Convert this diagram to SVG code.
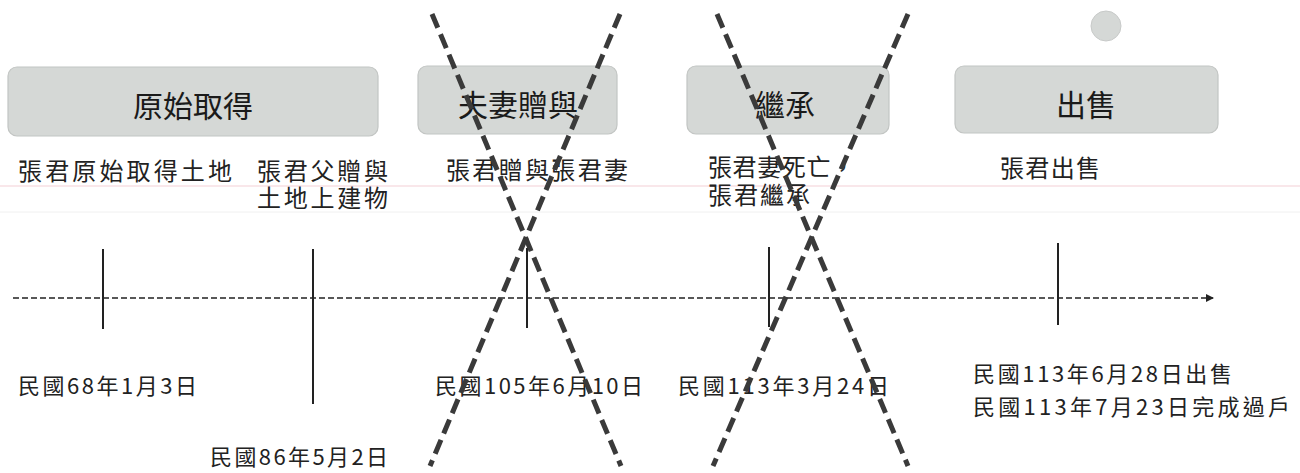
<svg xmlns="http://www.w3.org/2000/svg" width="1300" height="473" viewBox="0 0 1300 473">
  <style>
    .box { fill: #d5d8d6; stroke: #c2c5c3; stroke-width: 1.2; }
    .title { font-family: "Noto Sans CJK TC", "Noto Sans", sans-serif; font-size: 30px; fill: #1a1a1a; text-anchor: middle; }
    .desc { font-family: "Noto Sans CJK TC", "Noto Sans", sans-serif; font-size: 24px; fill: #222; }
    .date { font-family: "Noto Sans CJK TC", "Liberation Serif", serif; font-size: 22px; fill: #222; }
    .tick { stroke: #222; stroke-width: 2; }
    .axis { stroke: #222; stroke-width: 1.6; stroke-dasharray: 6 3; fill: none; }
    .cross { stroke: #3a3a3a; stroke-width: 5; stroke-dasharray: 15 7; fill: none; }
  </style>
  <defs>
    <marker id="arrow" markerWidth="8" markerHeight="8" refX="7" refY="4" orient="auto" markerUnits="userSpaceOnUse">
      <path d="M0,0 L8,4 L0,8 Z" fill="#222"/>
    </marker>
  </defs>
  <rect width="1300" height="473" fill="#ffffff"/>
  <!-- faint scan rule lines -->
  <line x1="0" y1="186" x2="1300" y2="186" stroke="#f3d0d6" stroke-width="1.2"/>
  <line x1="0" y1="212" x2="1300" y2="212" stroke="#f0f0f0" stroke-width="1"/>

  <g id="node-original">
    <rect class="box" x="8" y="67" width="370" height="69" rx="9"/>
    <text class="title" x="193" y="117">原始取得</text>
    <text class="desc" x="18" y="180" textLength="214" lengthAdjust="spacing">張君原始取得土地</text>
    <text class="desc" x="257" y="180" textLength="131" lengthAdjust="spacing">張君父贈與</text>
    <text class="desc" x="257" y="207" textLength="131" lengthAdjust="spacing">土地上建物</text>
  </g>
  <g id="node-spouse-gift">
    <rect class="box" x="418" y="66" width="199" height="68" rx="9"/>
    <text class="title" x="518" y="116">夫妻贈與</text>
    <text class="desc" x="446" y="179" textLength="182" lengthAdjust="spacing">張君贈與張君妻</text>
  </g>
  <g id="node-inherit">
    <rect class="box" x="687" y="66" width="202" height="68" rx="9"/>
    <text class="title" x="785" y="116">繼承</text>
    <text class="desc" x="708" y="176" textLength="147" lengthAdjust="spacing">張君妻死亡，</text>
    <text class="desc" x="708" y="204" textLength="102" lengthAdjust="spacing">張君繼承</text>
  </g>
  <g id="node-sale">
    <circle cx="1106" cy="26" r="15" fill="#d5d8d6" stroke="#c8cac9" stroke-width="1"/>
    <rect class="box" x="955" y="66" width="263" height="67" rx="9"/>
    <text class="title" x="1086" y="116">出售</text>
    <text class="desc" x="1000" y="177" textLength="100" lengthAdjust="spacing">張君出售</text>
  </g>

  <g id="connectors">
    <line class="axis" x1="13" y1="298" x2="1213" y2="298" marker-end="url(#arrow)"/>
    <line class="tick" x1="103" y1="249" x2="103" y2="329"/>
    <line class="tick" x1="313" y1="249" x2="313" y2="404"/>
    <line class="tick" x1="527" y1="248" x2="527" y2="328"/>
    <line class="tick" x1="769" y1="247" x2="769" y2="327"/>
    <line class="tick" x1="1058" y1="243" x2="1058" y2="325"/>
  </g>

  <g id="dates">
    <text class="date" x="18" y="394" textLength="179" lengthAdjust="spacing">民國68年1月3日</text>
    <text class="date" x="210" y="465" textLength="178" lengthAdjust="spacing">民國86年5月2日</text>
    <text class="date" x="435" y="394" textLength="208" lengthAdjust="spacing">民國105年6月10日</text>
    <text class="date" x="678" y="394" textLength="211" lengthAdjust="spacing">民國113年3月24日</text>
    <text class="date" x="973" y="382" textLength="259" lengthAdjust="spacing">民國113年6月28日出售</text>
    <text class="date" x="973" y="415" textLength="317" lengthAdjust="spacing">民國113年7月23日完成過戶</text>
  </g>

  <g id="cross-outs">
    <line class="cross" x1="432" y1="14" x2="621" y2="466"/>
    <line class="cross" x1="620" y1="14" x2="430" y2="466"/>
    <line class="cross" x1="717" y1="14" x2="908" y2="466"/>
    <line class="cross" x1="908" y1="14" x2="713" y2="466"/>
  </g>
</svg>
